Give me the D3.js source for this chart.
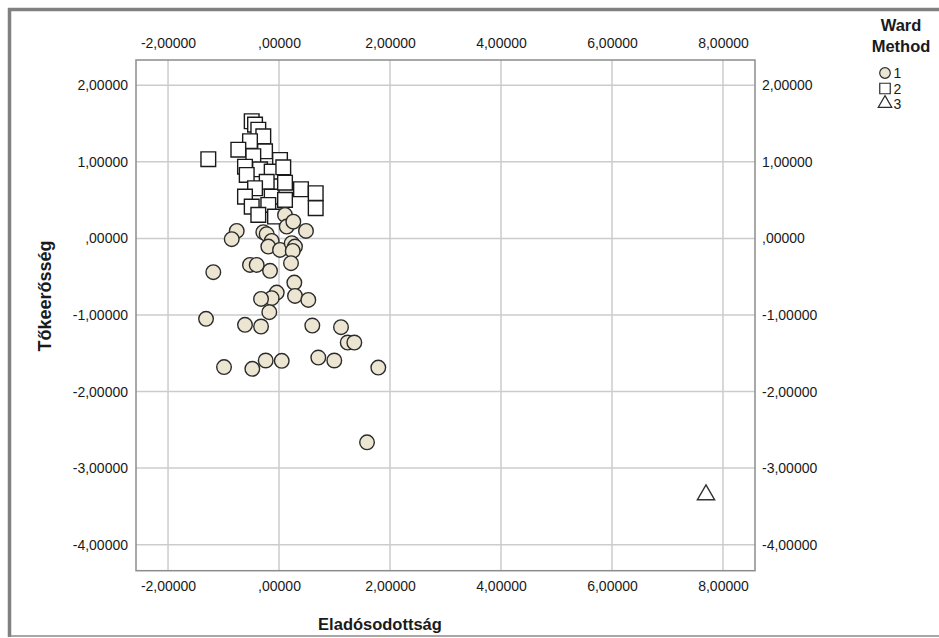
<!DOCTYPE html>
<meta charset="utf-8">
<script src="https://d3js.org/d3.v7.min.js"></script>
<style>
  body { margin: 0; background: #fff; }
  svg text { font-family: "Liberation Sans", Arial, sans-serif; fill: #1a1a1a; }
</style>
<div id="chart"></div>
<script>

// cluster 1 (circles)
var ward1X = [0.108, -0.762, -0.852, -0.283, -0.222, -0.132, -0.193, 0.018, 0.139, 0.258, 0.486,
  0.229, 0.288, 0.247, 0.216, -0.523, -0.402, -0.162, -1.184, 0.276, -0.041, -0.132, -0.324,
  0.288, 0.528, -0.175, -1.315, -0.613, -0.324, 0.600, 1.117, 1.238, 1.357, -0.991, -0.481,
  -0.240, 0.049, 0.708, 0.996, 1.789, 1.586];
var ward1Y = [0.307, 0.098, -0.010, 0.081, 0.055, -0.033, -0.107, -0.150, 0.154, 0.219, 0.098,
  -0.063, -0.107, -0.163, -0.324, -0.346, -0.346, -0.424, -0.441, -0.577, -0.708, -0.781, -0.790,
  -0.751, -0.803, -0.963, -1.051, -1.129, -1.151, -1.138, -1.159, -1.360, -1.360, -1.681, -1.704,
  -1.595, -1.599, -1.556, -1.595, -1.687, -2.663];

// cluster 2 (squares)
var ward2X = [-1.274, -0.492, -0.432, -0.373, -0.283, -0.523, -0.733, -0.252, -0.463, 0.018,
  -0.613, -0.342, -0.132, 0.077, -0.582, -0.222, -0.432, -0.613, -0.132, 0.108, 0.396, 0.661,
  0.661, 0.108, -0.193, -0.492, -0.373, -0.072];
var ward2Y = [1.034, 1.530, 1.486, 1.420, 1.334, 1.269, 1.159, 1.138, 1.073, 1.025,
  0.937, 0.903, 0.872, 0.929, 0.829, 0.739, 0.655, 0.546, 0.546, 0.728, 0.642, 0.590,
  0.394, 0.503, 0.437, 0.415, 0.307, 0.285];

// cluster 3 (triangle)
var ward3X = [7.694];
var ward3Y = [-3.349];

var xTicks = [-2, 0, 2, 4, 6, 8];
var yTicks = [2, 1, 0, -1, -2, -3, -4];

var legendLabels = ["1", "2", "3"];

var width = 939, height = 638;
var plot = { left: 136, right: 755, top: 60, bottom: 570.7 };

var svg = d3.select("#chart").append("svg")
  .attr("width", width)
  .attr("height", height);

// outer frame
svg.append("path")
  .attr("d", "M9.5,637 L9.5,9.5 L939,9.5")
  .attr("fill", "none")
  .attr("stroke", "#808080")
  .attr("stroke-width", 3.5);
svg.append("line")
  .attr("x1", 9).attr("x2", 939).attr("y1", 636).attr("y2", 636)
  .attr("stroke", "#8a8a8a").attr("stroke-width", 1.5);

var x = d3.scaleLinear().domain([-2.577, 8.577]).range([plot.left, plot.right]);
var y = d3.scaleLinear().domain([-4.34, 2.33]).range([plot.bottom, plot.top]);

function fmt(v) {
  var s = v.toFixed(5).replace(".", ",");
  if (s.indexOf("0,") === 0) s = s.slice(1);
  return s;
}

// gridlines
svg.append("g").selectAll("line")
  .data(xTicks).enter().append("line")
  .attr("x1", d => x(d)).attr("x2", d => x(d))
  .attr("y1", plot.top).attr("y2", plot.bottom)
  .attr("stroke", "#cccccc").attr("stroke-width", 1.5);
svg.append("g").selectAll("line")
  .data(yTicks).enter().append("line")
  .attr("y1", d => y(d)).attr("y2", d => y(d))
  .attr("x1", plot.left).attr("x2", plot.right)
  .attr("stroke", "#cccccc").attr("stroke-width", 1.5);

// plot box
svg.append("rect")
  .attr("x", plot.left).attr("y", plot.top)
  .attr("width", plot.right - plot.left).attr("height", plot.bottom - plot.top)
  .attr("fill", "none").attr("stroke", "#8c8c8c").attr("stroke-width", 1.5);

// axes on all four sides, labels only
function styleAxis(g) {
  g.select(".domain").remove();
  g.selectAll("line").remove();
  g.selectAll("text").style("font-size", "14px").attr("fill", "#1a1a1a");
}
svg.append("g").attr("transform", "translate(0," + (plot.top - 12) + ")")
  .call(d3.axisTop(x).tickValues(xTicks).tickFormat(fmt).tickSize(0).tickPadding(0))
  .call(styleAxis);
svg.append("g").attr("transform", "translate(0," + (plot.bottom + 10) + ")")
  .call(d3.axisBottom(x).tickValues(xTicks).tickFormat(fmt).tickSize(0).tickPadding(0))
  .call(styleAxis);
svg.append("g").attr("transform", "translate(" + (plot.left - 8) + ",0)")
  .call(d3.axisLeft(y).tickValues(yTicks).tickFormat(fmt).tickSize(0).tickPadding(0))
  .call(styleAxis);
svg.append("g").attr("transform", "translate(" + (plot.right + 7) + ",0)")
  .call(d3.axisRight(y).tickValues(yTicks).tickFormat(fmt).tickSize(0).tickPadding(0))
  .call(styleAxis);

// axis titles
svg.append("text")
  .attr("x", 380).attr("y", 630)
  .attr("text-anchor", "middle")
  .style("font-size", "16.5px").style("font-weight", "bold")
  .text("Eladósodottság");
svg.append("text")
  .attr("transform", "translate(51,296) rotate(-90)")
  .attr("text-anchor", "middle")
  .style("font-size", "18px").style("font-weight", "bold")
  .text("Tőkeerősség");

// points
var pts2 = ward2X.map((v, i) => ({ x: v, y: ward2Y[i] }));
var pts1 = ward1X.map((v, i) => ({ x: v, y: ward1Y[i] }));
var pts3 = ward3X.map((v, i) => ({ x: v, y: ward3Y[i] }));

svg.append("g").selectAll("path")
  .data(pts2).enter().append("path")
  .attr("d", d3.symbol(d3.symbolSquare, 215))
  .attr("transform", d => "translate(" + x(d.x) + "," + y(d.y) + ")")
  .attr("fill", "#ffffff").attr("stroke", "#1a1a1a").attr("stroke-width", 1.4);

svg.append("g").selectAll("circle")
  .data(pts1).enter().append("circle")
  .attr("cx", d => x(d.x)).attr("cy", d => y(d.y))
  .attr("r", 7.3)
  .attr("fill", "#ece5d1").attr("stroke", "#2b2b2b").attr("stroke-width", 1.4);

svg.append("g").selectAll("path")
  .data(pts3).enter().append("path")
  .attr("d", d3.symbol(d3.symbolTriangle, 130))
  .attr("transform", d => "translate(" + x(d.x) + "," + y(d.y) + ")")
  .attr("fill", "#ffffff").attr("stroke", "#333").attr("stroke-width", 1.4);

// legend
var legend = svg.append("g");
legend.append("text").attr("x", 901).attr("y", 31).attr("text-anchor", "middle")
  .style("font-size", "16.5px").style("font-weight", "bold").text("Ward");
legend.append("text").attr("x", 901).attr("y", 52).attr("text-anchor", "middle")
  .style("font-size", "16.5px").style("font-weight", "bold").text("Method");

var legY = [73, 88.5, 103.5];
legend.append("circle").attr("cx", 885).attr("cy", legY[0]).attr("r", 5.3)
  .attr("fill", "#ece5d1").attr("stroke", "#2b2b2b").attr("stroke-width", 1.2);
legend.append("path").attr("d", d3.symbol(d3.symbolSquare, 110))
  .attr("transform", "translate(885," + legY[1] + ")")
  .attr("fill", "#fff").attr("stroke", "#2b2b2b").attr("stroke-width", 1.2);
legend.append("path").attr("d", d3.symbol(d3.symbolTriangle, 80))
  .attr("transform", "translate(885," + legY[2] + ")")
  .attr("fill", "#fff").attr("stroke", "#2b2b2b").attr("stroke-width", 1.2);
legend.selectAll(".lab").data(legendLabels).enter().append("text")
  .attr("x", 893.5).attr("y", (d, i) => legY[i] + 5)
  .style("font-size", "14px")
  .text(d => d);

</script>
